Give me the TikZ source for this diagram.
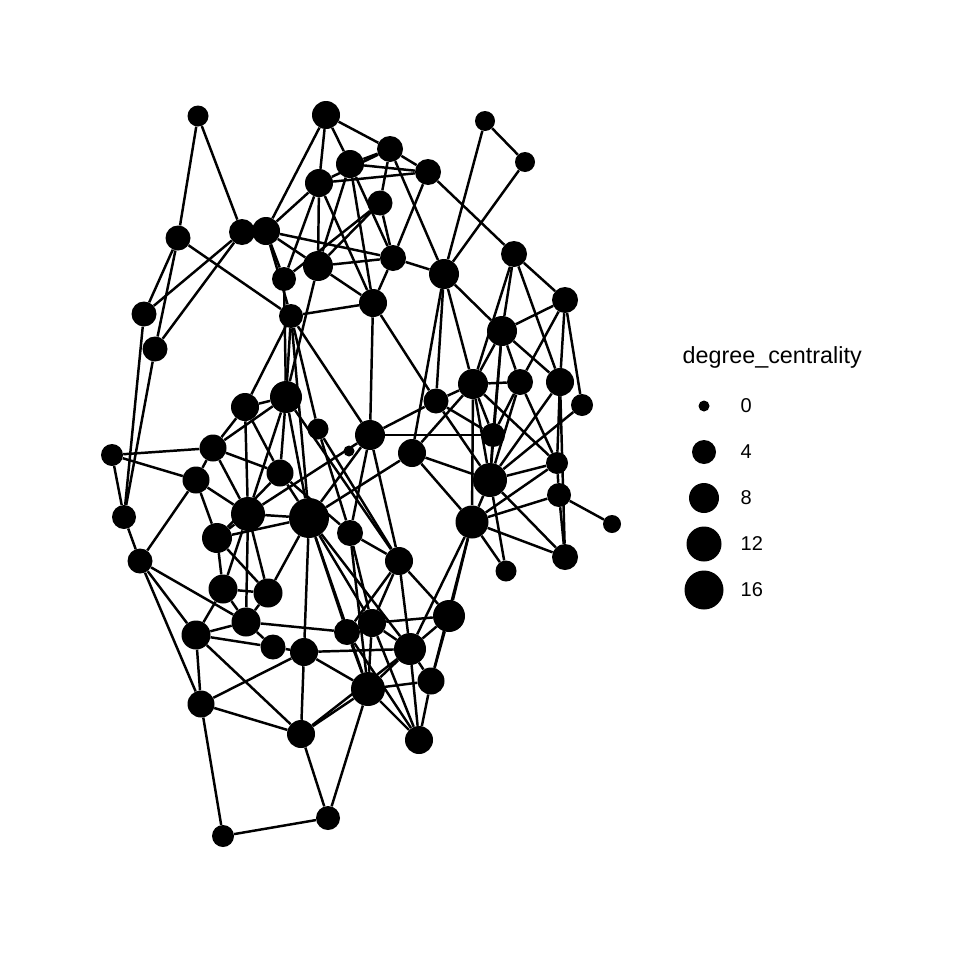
\documentclass[tikz,border=0pt]{standalone}
\usepackage{fontspec}
\setmainfont{Liberation Sans}
\begin{document}
\begin{tikzpicture}[x=0.75pt,y=-0.75pt,
    dot/.style={circle,fill=black,inner sep=0pt,minimum size=#1*1.5pt+1.5pt},
    link/.style={line width=1.85pt}]
        \useasboundingbox (0,0) rectangle (960,960);
        % nodes of the network
        \node[dot=9.5] (v1) at (198,116) {};
        \node[dot=13] (v2) at (326,115) {};
        \node[dot=12] (v3) at (390,149) {};
        \node[dot=13] (v4) at (350,164) {};
        \node[dot=12] (v5) at (428,172) {};
        \node[dot=13] (v6) at (319,183) {};
        \node[dot=9] (v7) at (485,121) {};
        \node[dot=9] (v8) at (525,162) {};
        \node[dot=11.5] (v9) at (380,203) {};
        \node[dot=11.5] (v10) at (178,238) {};
        \node[dot=12] (v11) at (242,232) {};
        \node[dot=13] (v12) at (266,231) {};
        \node[dot=11] (v13) at (284,279) {};
        \node[dot=14] (v14) at (318,266) {};
        \node[dot=12] (v15) at (393,258) {};
        \node[dot=14] (v16) at (444,274) {};
        \node[dot=12] (v17) at (514,254) {};
        \node[dot=13] (v18) at (373,303) {};
        \node[dot=11] (v19) at (291,316) {};
        \node[dot=11.5] (v20) at (144,314) {};
        \node[dot=11.5] (v21) at (155,349) {};
        \node[dot=12] (v22) at (565,300) {};
        \node[dot=14] (v23) at (502,331) {};
        \node[dot=14] (v24) at (473,384) {};
        \node[dot=12] (v25) at (520,382) {};
        \node[dot=13] (v26) at (560,382) {};
        \node[dot=10] (v27) at (582,405) {};
        \node[dot=11.5] (v28) at (436,401) {};
        \node[dot=15] (v29) at (286,397) {};
        \node[dot=13] (v30) at (245,407) {};
        \node[dot=9.5] (v31) at (318,429) {};
        \node[dot=4.5] (v32) at (349,451) {};
        \node[dot=14] (v33) at (370,435) {};
        \node[dot=11] (v34) at (493,435) {};
        \node[dot=13] (v35) at (412,453) {};
        \node[dot=12.5] (v36) at (213,448) {};
        \node[dot=10] (v37) at (112,455) {};
        \node[dot=12.5] (v38) at (280,473) {};
        \node[dot=12.5] (v39) at (196,480) {};
        \node[dot=16] (v40) at (490,480) {};
        \node[dot=10] (v41) at (557,463) {};
        \node[dot=11] (v42) at (559,495) {};
        \node[dot=11] (v43) at (124,517) {};
        \node[dot=16] (v44) at (248,514) {};
        \node[dot=19] (v45) at (309,518) {};
        \node[dot=12] (v46) at (350,533) {};
        \node[dot=15.5] (v47) at (472,522) {};
        \node[dot=8] (v48) at (612,524) {};
        \node[dot=14] (v49) at (217,538) {};
        \node[dot=11.5] (v50) at (140,561) {};
        \node[dot=13] (v51) at (399,561) {};
        \node[dot=9.5] (v52) at (506,571) {};
        \node[dot=12] (v53) at (565,557) {};
        \node[dot=13.5] (v54) at (223,589) {};
        \node[dot=13.5] (v55) at (268,593) {};
        \node[dot=13.5] (v56) at (246,622) {};
        \node[dot=13.5] (v57) at (196,635) {};
        \node[dot=11.5] (v58) at (273,647) {};
        \node[dot=12] (v59) at (347,632) {};
        \node[dot=13] (v60) at (372,623) {};
        \node[dot=15] (v61) at (449,616) {};
        \node[dot=13] (v62) at (304,652) {};
        \node[dot=15] (v63) at (410,649) {};
        \node[dot=12.5] (v64) at (431,681) {};
        \node[dot=16] (v65) at (368,689) {};
        \node[dot=12.5] (v66) at (201,704) {};
        \node[dot=13] (v67) at (301,734) {};
        \node[dot=13] (v68) at (419,740) {};
        \node[dot=11] (v69) at (328,818) {};
        \node[dot=10] (v70) at (223,836) {};
        % links
        \foreach \a/\b in {1/10,1/11,10/20,10/21,10/19,11/20,11/21,
            12/2,12/6,12/13,12/15,12/14,12/19,2/3,2/4,2/6,
            3/4,3/5,3/9,3/6,3/16,4/5,4/14,4/18,4/15,5/6,5/15,5/17,
            6/14,6/13,6/18,7/8,7/16,8/16,9/13,9/14,9/15,
            13/29,14/29,14/18,14/15,15/18,15/16,
            16/23,16/24,16/28,16/35,17/22,17/23,17/24,17/26,
            18/19,18/33,18/28,19/30,19/29,19/31,19/33,19/45,20/43,21/43,
            22/23,22/25,22/26,22/27,23/24,23/25,23/26,23/34,23/40,
            24/25,24/28,24/34,24/40,24/41,24/35,24/47,
            25/34,25/41,25/40,26/40,26/53,26/41,27/40,
            28/33,28/34,28/40,33/34,33/45,33/46,33/51,33/44,34/40,
            35/40,35/45,35/47,40/41,40/47,40/52,40/53,41/42,41/47,
            42/47,42/48,42/53,47/52,47/53,47/61,47/63,47/64,
            29/30,29/36,29/44,29/38,29/45,29/51,30/36,30/44,30/38,
            31/51,31/46,36/37,36/39,36/44,36/38,37/39,37/43,
            38/45,38/46,38/49,39/50,39/44,39/49,43/50,
            44/45,44/49,44/54,44/55,44/56,
            45/55,45/62,45/59,45/60,45/63,45/65,45/49,
            46/51,46/60,46/65,49/54,49/55,50/57,50/56,50/66,
            51/59,51/60,51/61,51/63,54/55,54/56,54/57,55/56,
            56/57,56/58,56/59,57/58,57/66,57/67,58/62,
            59/60,59/65,59/68,60/61,60/63,60/65,60/68,61/63,61/64,
            62/63,62/65,62/66,62/67,63/64,63/65,63/68,63/67,
            64/65,64/68,65/67,65/68,65/69,66/67,66/70,67/69,69/70}
            \draw[link] (v\a) -- (v\b);
        % legend
        \node[anchor=west,font=\fontsize{17.5}{20}\selectfont] (ltitle) at (678,357) {degree\_centrality};
        \node[dot=4.5] (l0) at (704,406) {};
        \node[dot=11] (l4) at (704,452) {};
        \node[dot=14] (l8) at (704,498) {};
        \node[dot=16.5] (l12) at (704,544) {};
        \node[dot=18.5] (l16) at (704,590) {};
        \node[anchor=west,font=\fontsize{15}{18}\selectfont] at (736,406) {0};
        \node[anchor=west,font=\fontsize{15}{18}\selectfont] at (736,452) {4};
        \node[anchor=west,font=\fontsize{15}{18}\selectfont] at (736,498) {8};
        \node[anchor=west,font=\fontsize{15}{18}\selectfont] at (736,544) {12};
        \node[anchor=west,font=\fontsize{15}{18}\selectfont] at (736,590) {16};
    \end{tikzpicture}
\end{document}
